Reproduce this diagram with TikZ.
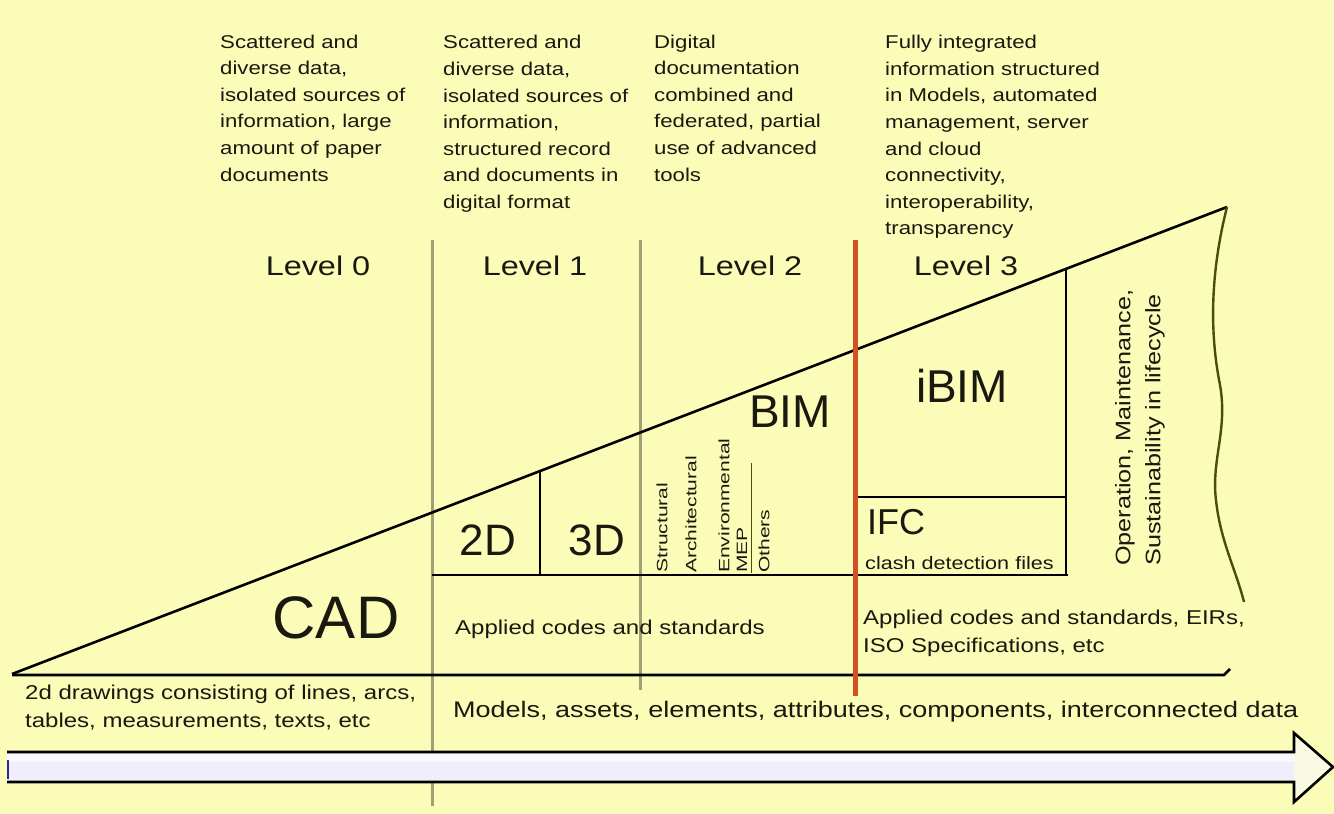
\documentclass[tikz,border=0pt]{standalone}
\usepackage{fontspec}
\setmainfont{Liberation Sans}
\newfontfamily\widesf[FakeStretch=1.2]{Liberation Sans}
\newfontfamily\tallsf[FakeStretch=1.4]{Liberation Sans}
\definecolor{bg}{RGB}{250,252,184}
\definecolor{lav}{RGB}{240,238,253}
\definecolor{headfill}{RGB}{248,250,225}
\definecolor{redline}{RGB}{208,82,36}
\definecolor{grayline}{RGB}{160,160,118}
\definecolor{olive}{RGB}{70,80,10}
\definecolor{ink}{RGB}{25,25,15}
\definecolor{blueedge}{RGB}{40,40,150}
\tikzset{
  txt/.style={inner sep=0pt, text=ink, align=left},
  toptxt/.style={txt, anchor=west, font=\widesf\fontsize{18.5}{26.6}\selectfont},
  lvl/.style={txt, font=\widesf\fontsize{27}{30}\selectfont},
  bigtxt/.style={txt, font=\fontsize{#1}{#1}\selectfont},
  midtxt/.style={txt, anchor=west, font=\widesf\fontsize{20}{28}\selectfont},
  vword/.style={txt, rotate=90, anchor=west, font=\tallsf\fontsize{15}{16}\selectfont},
  blk/.style={draw=black, line width=2.6pt},
  thin/.style={draw=black, line width=2.2pt},
  sep/.style={draw=grayline, line width=3pt},
}
\begin{document}
\begin{tikzpicture}[x=1pt,y=-1pt]
\useasboundingbox (0,0) rectangle (1334,814);
\fill[bg] (0,0) rectangle (1334,814);

% coordinates
\coordinate (A) at (12,674);
\coordinate (B) at (1227,207);
\coordinate (S1) at (540,471);
\coordinate (S1b) at (540,575);
\coordinate (S3) at (1066,269);
\coordinate (S3b) at (1066,575);
\coordinate (H1) at (432,575);
\coordinate (H2) at (1068,575);
\coordinate (M1) at (855,497);
\coordinate (M2) at (1066,497);
\coordinate (BL1) at (12,675);
\coordinate (BL2) at (1224,675);
\coordinate (BL3) at (1230,669);

% separators
\draw[sep] (432,240) coordinate (V0t) -- (432,806) coordinate (V0b);
\draw[sep] (640,240) coordinate (V1t) -- (640,690) coordinate (V1b);

% arrow
\fill[lav] (7,752) rectangle (1294,782);
\fill[white,opacity=0.6] (7,754) rectangle (1294,762);
\fill[headfill] (1294,752) -- (1294,733) -- (1333,767) -- (1294,802) -- (1294,782) -- cycle;
\draw[line width=2.6pt, line join=miter] (7,752) coordinate (Ra) -- (1294,752) -- (1294,733) -- (1333,767) coordinate (Rtip) -- (1294,802) -- (1294,782) -- (7,782) coordinate (Rb);
\draw[blueedge, line width=2.5pt] (8,760) -- (8,779);

% main wedge
\draw[blk] (A) -- (B);
\draw[blk] (BL1) -- (BL2) -- (BL3);

% boxes
\draw[thin] (H1) -- (H2);
\draw[thin] (S1) -- (S1b);
\draw[thin] (S3) -- (S3b);
\draw[thin] (M1) -- (M2);
\draw[olive, line width=1pt] (751,463) -- (751,573);

% wavy line
\draw[olive, line width=2.4pt] (B) .. controls (1211,270) and (1209,330) .. (1220,385)
  .. controls (1228,430) and (1211,460) .. (1216,500)
  .. controls (1220,540) and (1236,570) .. (1244,602);

% red line
\draw[redline, line width=5pt] (855,240) coordinate (Rt) -- (855,696) coordinate (Rbt);

% top texts
\node[toptxt] (c0) at (220,108) {Scattered and\\diverse data,\\isolated sources of\\information, large\\amount of paper\\documents};
\node[toptxt] (c1) at (443,124) {Scattered and\\diverse data,\\isolated sources of\\information,\\structured record\\and documents in\\digital format};
\node[toptxt] (c2) at (654,108) {Digital\\documentation\\combined and\\federated, partial\\use of advanced\\tools};
\node[toptxt] (c3) at (885,137) {Fully integrated\\information structured\\in Models, automated\\management, server\\and cloud\\connectivity,\\interoperability,\\transparency};

% level labels
\node[lvl] (l0) at (318,266) {Level 0};
\node[lvl] (l1) at (535,266) {Level 1};
\node[lvl] (l2) at (750,266) {Level 2};
\node[lvl] (l3) at (966,266) {Level 3};

% big labels
\node[bigtxt=60] (cad) at (336,618) {CAD};
\node[bigtxt=46] (bim) at (790,412) {BIM};
\node[bigtxt=46] (ibim) at (962,386) {iBIM};
\node[bigtxt=44] (d2) at (488,540) {2D};
\node[bigtxt=44] (d3) at (597,540) {3D};
\node[bigtxt=36, anchor=west] (ifc) at (867,522) {IFC};
\node[txt, anchor=west, font=\widesf\fontsize{18}{20}\selectfont] (clash) at (865,563) {clash detection files};

% vertical words
\node[vword] (w1) at (662,573) {Structural};
\node[vword] (w2) at (691,573) {Architectural};
\node[vword] (w3) at (724,573) {Environmental};
\node[vword] (w4) at (742,573) {MEP};
\node[vword] (w5) at (764,573) {Others};

% mid texts
\node[midtxt] (ac1) at (455,629) {Applied codes and standards};
\node[midtxt] (ac2) at (863,633) {Applied codes and standards, EIRs,\\ISO Specifications, etc};
\node[midtxt] (dr) at (25,708) {2d drawings consisting of lines, arcs,\\tables, measurements, texts, etc};
\node[txt, anchor=west, font=\widesf\fontsize{22.5}{24}\selectfont] (mod) at (453,712) {Models, assets, elements, attributes, components, interconnected data};

% rotated text
\node[txt, rotate=90, anchor=west, font=\widesf\fontsize{21}{30}\selectfont] (op) at (1140,566) {Operation, Maintenance,\\Sustainability in lifecycle};
\end{tikzpicture}
\end{document}
